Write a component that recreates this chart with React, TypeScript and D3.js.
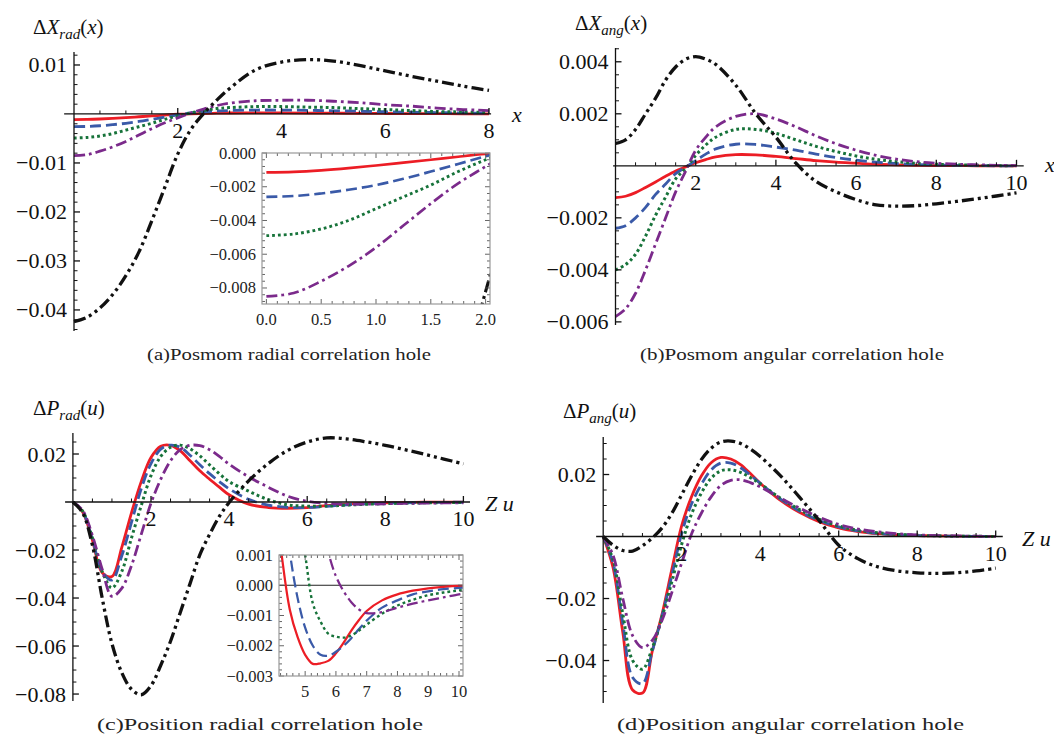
import React from 'react';
import * as d3 from 'd3';

// (a) posmom radial correlation hole
const A_X = [0, 0.25, 0.5, 0.75, 1, 1.25, 1.5, 1.75, 2, 2.25, 2.5, 2.75, 3, 3.5, 4, 4.5, 5, 5.5, 6, 6.5, 7, 7.5, 8];
const A_RED = [-0.00115, -0.00112, -0.00103, -0.0009, -0.00074, -0.00057, -0.0004, -0.00022, -0.00006, 0.00004, 0.0001, 0.00016, 0.0002, 0.00022, 0.00021, 0.00019, 0.00016, 0.00013, 0.0001, 0.00008, 0.00006, 0.00004, 0.00003];
const A_BLUE = [-0.0026, -0.00255, -0.0024, -0.00218, -0.0019, -0.00153, -0.0011, -0.00065, -0.0002, 0.0002, 0.00045, 0.0006, 0.0007, 0.0008, 0.0008, 0.00074, 0.00065, 0.00055, 0.00045, 0.00036, 0.00028, 0.00021, 0.00016];
const A_GREEN = [-0.0049, -0.0048, -0.0045, -0.004, -0.0033, -0.0026, -0.0019, -0.0011, -0.0004, 0.0002, 0.0007, 0.0011, 0.0013, 0.0015, 0.0015, 0.0014, 0.0013, 0.0011, 0.0009, 0.0007, 0.0005, 0.0004, 0.0003];
const A_PURPLE = [-0.0085, -0.0083, -0.0076, -0.0067, -0.0056, -0.0043, -0.003, -0.0018, -0.0008, 0.0002, 0.001, 0.0017, 0.0022, 0.0027, 0.0028, 0.0028, 0.0026, 0.0023, 0.0019, 0.0016, 0.0012, 0.0009, 0.0007];
const A_BLACK = [-0.0424, -0.0415, -0.0396, -0.0368, -0.033, -0.0282, -0.0218, -0.015, -0.0082, -0.0032, 0.0001, 0.0028, 0.0052, 0.009, 0.0106, 0.0111, 0.0108, 0.0099, 0.0088, 0.0077, 0.0067, 0.0057, 0.0048];

// (b) posmom angular correlation hole
const B_X = [0, 0.25, 0.5, 0.75, 1, 1.25, 1.5, 1.75, 2, 2.25, 2.5, 3, 3.5, 4, 4.5, 5, 5.5, 6, 6.5, 7, 7.5, 8, 8.5, 9, 9.5, 10];
const B_RED = [-0.00122, -0.00117, -0.00103, -0.00083, -0.00062, -0.0004, -0.0002, -0.00004, 0.00012, 0.00024, 0.00034, 0.00043, 0.00042, 0.00036, 0.00028, 0.0002, 0.00014, 0.0001, 0.00006, 0.00004, 0.00002, 0.00001, 0.00001, 0, 0, 0];
const B_BLUE = [-0.0024, -0.0023, -0.002, -0.0016, -0.0011, -0.0007, -0.0003, -0.00005, 0.0002, 0.00045, 0.00065, 0.00083, 0.00082, 0.00072, 0.0006, 0.00045, 0.00032, 0.00022, 0.00014, 0.00009, 0.00005, 0.00003, 0.00002, 0.00001, 0, 0];
const B_GREEN = [-0.004, -0.0038, -0.0034, -0.0027, -0.0019, -0.0012, -0.0005, -0.0001, 0.0004, 0.0008, 0.0011, 0.0014, 0.0014, 0.00125, 0.001, 0.00075, 0.00055, 0.00038, 0.00025, 0.00016, 0.0001, 0.00006, 0.00004, 0.00002, 0.00001, 0];
const B_PURPLE = [-0.0058, -0.0055, -0.0049, -0.004, -0.003, -0.002, -0.001, -0.0002, 0.0006, 0.0011, 0.0015, 0.0019, 0.002, 0.0018, 0.0015, 0.00115, 0.00085, 0.0006, 0.0004, 0.00026, 0.00016, 0.0001, 0.00006, 0.00004, 0.00002, 0.00001];
const B_BLACK = [0.00086, 0.001, 0.0014, 0.002, 0.0026, 0.0033, 0.0038, 0.0041, 0.0042, 0.0041, 0.0039, 0.0031, 0.002, 0.0011, 0.0001, -0.0006, -0.001, -0.0013, -0.0015, -0.00155, -0.00153, -0.00146, -0.00137, -0.00127, -0.00116, -0.00104];

// (c) position radial correlation hole
const C_X = [0, 0.25, 0.5, 0.75, 1, 1.25, 1.5, 1.75, 2, 2.25, 2.5, 2.75, 3, 3.25, 3.5, 3.75, 4, 4.5, 5, 5.5, 6, 6.5, 7, 7.5, 8, 8.5, 9, 9.5, 10];
const C_RED = [0, -0.0042, -0.016, -0.0295, -0.031, -0.019, -0.0045, 0.0085, 0.0185, 0.0232, 0.0236, 0.0213, 0.0172, 0.013, 0.0095, 0.0062, 0.003, -0.0009, -0.0023, -0.0026, -0.0023, -0.0015, -0.00085, -0.0005, -0.0003, -0.00018, -0.0001, -0.00005, -0.00002];
const C_BLUE = [0, -0.004, -0.0155, -0.029, -0.0325, -0.0225, -0.0085, 0.0055, 0.016, 0.022, 0.0237, 0.0228, 0.0195, 0.0155, 0.0118, 0.0085, 0.0055, 0.0011, -0.0013, -0.0022, -0.0023, -0.0018, -0.0012, -0.00074, -0.0005, -0.0003, -0.0002, -0.00013, -0.00009];
const C_GREEN = [0, -0.0038, -0.015, -0.029, -0.0358, -0.029, -0.015, -0.0015, 0.011, 0.019, 0.0228, 0.0237, 0.0222, 0.0192, 0.0155, 0.0118, 0.0085, 0.0045, 0.001, -0.0012, -0.0017, -0.00167, -0.0013, -0.00094, -0.00067, -0.00048, -0.00033, -0.00024, -0.00017];
const C_PURPLE = [0, -0.0035, -0.014, -0.028, -0.0393, -0.036, -0.0265, -0.0135, -0.0005, 0.0095, 0.0172, 0.0218, 0.0236, 0.0235, 0.0218, 0.019, 0.0158, 0.0105, 0.0062, 0.0024, 0.0003, -0.00056, -0.00092, -0.00089, -0.00074, -0.00061, -0.0005, -0.0004, -0.0003];
const C_BLACK = [0, -0.0045, -0.018, -0.04, -0.059, -0.071, -0.078, -0.0803, -0.0765, -0.068, -0.058, -0.046, -0.034, -0.022, -0.0135, -0.006, -0.0002, 0.0088, 0.016, 0.0215, 0.025, 0.0267, 0.0263, 0.0251, 0.0236, 0.0218, 0.0199, 0.0179, 0.0159];

// (c) inset, 4.15 <= Z u <= 10.13
const CI_X = [4.15, 4.25, 4.5, 4.75, 5, 5.25, 5.5, 5.75, 6, 6.25, 6.5, 6.75, 7, 7.5, 8, 8.5, 9, 9.5, 10, 10.13];
const CI_RED = [0.0018, 0.0009, -0.0008, -0.0017, -0.0023, -0.0026, -0.00258, -0.0025, -0.00225, -0.0019, -0.0015, -0.00115, -0.00085, -0.0005, -0.0003, -0.00018, -0.0001, -0.00005, -0.00002, -0.00002];
const CI_BLUE = [0.0045, 0.0033, 0.0011, -0.0004, -0.0014, -0.002, -0.0023, -0.00233, -0.0022, -0.002, -0.00175, -0.00145, -0.00117, -0.00074, -0.0005, -0.0003, -0.0002, -0.00013, -0.00009, -0.00008];
const CI_GREEN = [0.0065, 0.0058, 0.0043, 0.0025, 0.001, -0.0006, -0.0012, -0.0016, -0.0017, -0.00173, -0.00166, -0.0015, -0.0013, -0.00094, -0.00067, -0.00048, -0.00033, -0.00024, -0.00017, -0.00016];
const CI_PURPLE = [0.013, 0.0122, 0.0105, 0.0083, 0.0062, 0.0042, 0.0024, 0.0011, 0.0003, -0.0002, -0.00056, -0.0008, -0.00092, -0.00089, -0.00074, -0.00061, -0.0005, -0.0004, -0.0003, -0.00028];

// (d) position angular correlation hole
const D_X = C_X;
const D_RED = [0, -0.01, -0.031, -0.0495, -0.0505, -0.037, -0.025, -0.0105, 0.0035, 0.0128, 0.0195, 0.0238, 0.0255, 0.025, 0.0232, 0.0203, 0.0172, 0.0118, 0.0078, 0.0048, 0.0028, 0.0016, 0.0009, 0.0005, 0.0003, 0.0002, 0.0001, 0.00005, 0.00002];
const D_BLUE = [0, -0.0085, -0.028, -0.0455, -0.0475, -0.037, -0.0255, -0.0125, 0.001, 0.0105, 0.0168, 0.0215, 0.0237, 0.0237, 0.0222, 0.0198, 0.0172, 0.0122, 0.0082, 0.0052, 0.0031, 0.0018, 0.001, 0.0006, 0.0003, 0.0002, 0.0001, 0.00005, 0.00002];
const D_GREEN = [0, -0.0075, -0.025, -0.04, -0.0428, -0.036, -0.026, -0.0145, -0.0025, 0.0072, 0.014, 0.0188, 0.0212, 0.0215, 0.0207, 0.019, 0.017, 0.0125, 0.0087, 0.0056, 0.0034, 0.002, 0.0012, 0.0007, 0.0004, 0.0002, 0.0001, 0.00006, 0.00003];
const D_PURPLE = [0, -0.006, -0.02, -0.032, -0.0358, -0.0335, -0.027, -0.018, -0.0085, 0.0008, 0.0075, 0.0128, 0.0165, 0.0181, 0.0183, 0.0174, 0.016, 0.0125, 0.0092, 0.0062, 0.0039, 0.0024, 0.0015, 0.0009, 0.0005, 0.0003, 0.0002, 0.0001, 0.00005];
const D_BLACK = [0, -0.0028, -0.0045, -0.0047, -0.003, -0.0005, 0.0028, 0.0075, 0.0135, 0.0195, 0.0248, 0.0285, 0.0305, 0.0308, 0.03, 0.0282, 0.0258, 0.0198, 0.0127, 0.0052, -0.0028, -0.0072, -0.0098, -0.0111, -0.0117, -0.0119, -0.0117, -0.0111, -0.0102];

const SERIF = 'Liberation Serif, DejaVu Serif, serif';

// red solid, blue dashed, green dotted, purple dash-dot, black dash-dot-dot
const STYLES = [
  { color: '#ec1d25', dash: undefined, width: 2.8 },
  { color: '#3a5aa8', dash: '11,5', width: 2.8 },
  { color: '#17733a', dash: '2.8,3', width: 3 },
  { color: '#7b2a8b', dash: '11,4,2.8,4', width: 2.8 },
  { color: '#111111', dash: '12,4,3,4,3,4', width: 3.3 },
];

const minus = (s: string) => s.replace('-', '\u2212');

function stepTicks(lo: number, hi: number, step: number) {
  const k0 = Math.ceil(lo / step - 1e-6);
  const k1 = Math.floor(hi / step + 1e-6);
  return d3.range(k0, k1 + 1).map(k => +(k * step).toFixed(8));
}
function isMult(v: number, step: number) {
  const r = v / step;
  return Math.abs(r - Math.round(r)) < 1e-6;
}

function Curves({ xs, ys, sx, sy, scale = 1, clip }: any) {
  const line = d3.line<[number, number]>()
    .x(d => sx(d[0]))
    .y(d => sy(d[1]))
    .curve(d3.curveCatmullRom.alpha(0.5));
  return (
    <g fill="none" clipPath={clip}>
      {ys.map((vals: number[], i: number) => {
        if (!vals) return null;
        const st = STYLES[i];
        return (
          <path key={i} d={line(xs.map((x: number, j: number) => [x, vals[j]])) || ''}
            stroke={st.color} strokeWidth={st.width * scale}
            strokeDasharray={st.dash} />
        );
      })}
    </g>
  );
}

function Title({ x, y, main, sub, arg }: any) {
  return (
    <text x={x} y={y} style={{ fontFamily: SERIF }} fontSize={21} fill="#111">
      Δ<tspan fontStyle="italic">{main}</tspan>
      <tspan fontStyle="italic" fontSize={15} dy={5}>{sub}</tspan>
      <tspan dy={-5}>(</tspan><tspan fontStyle="italic">{arg}</tspan>)
    </text>
  );
}

function MainPanel({ p }: any) {
  const sx = d3.scaleLinear().domain(p.xDomain).range(p.xRange);
  const sy = d3.scaleLinear().domain(p.yDomain).range(p.yRange);
  const x0 = sx(0);
  const y0 = sy(0);
  const xMaj = stepTicks(p.xDomain[0], p.xDomain[1], p.xMajor).filter(v => v !== 0);
  const xMin = stepTicks(p.xDomain[0], p.xDomain[1], p.xMinor).filter(v => v !== 0 && !isMult(v, p.xMajor));
  const yMaj = stepTicks(p.yDomain[0], p.yDomain[1], p.yMajor).filter(v => v !== 0);
  const yMin = stepTicks(p.yDomain[0], p.yDomain[1], p.yMinor).filter(v => v !== 0 && !isMult(v, p.yMajor));
  const yFmt = d3.format(p.yFmt);
  return (
    <g>
      <Curves xs={p.xs} ys={p.ys} sx={sx} sy={sy} />
      <g stroke="#111" strokeWidth={1.3}>
        <line x1={sx(p.xLine[0])} x2={sx(p.xLine[1])} y1={y0} y2={y0} />
        <line x1={x0} x2={x0} y1={p.yRange[0]} y2={p.yRange[1]} />
        {xMaj.map(v => <line key={'xM' + v} x1={sx(v)} x2={sx(v)} y1={y0} y2={y0 - 6} />)}
        {xMin.map(v => <line key={'xm' + v} x1={sx(v)} x2={sx(v)} y1={y0} y2={y0 - 3.5} strokeWidth={1} />)}
        {yMaj.map(v => <line key={'yM' + v} x1={x0} x2={x0 + 6} y1={sy(v)} y2={sy(v)} />)}
        {yMin.map(v => <line key={'ym' + v} x1={x0} x2={x0 + 3.5} y1={sy(v)} y2={sy(v)} strokeWidth={1} />)}
      </g>
      <g style={{ fontFamily: SERIF }} fontSize={22} fill="#111">
        {xMaj.map(v => (
          <text key={'xl' + v} x={sx(v)} y={y0 + 24} textAnchor="middle">{d3.format('d')(v)}</text>
        ))}
        {yMaj.map(v => (
          <text key={'yl' + v} x={x0 - 7} y={sy(v) + 7.5} textAnchor="end">{minus(yFmt(v))}</text>
        ))}
        <text x={p.xLabel[0]} y={p.xLabel[1]} fontStyle="italic">{p.xLabelText}</text>
      </g>
    </g>
  );
}

function Inset({ p }: any) {
  const [bx0, bx1] = p.boxX;
  const [by0, by1] = p.boxY;
  const sx = d3.scaleLinear().domain(p.xDomain).range([bx0, bx1]);
  const sy = d3.scaleLinear().domain(p.yDomain).range([by1, by0]);
  const xMaj = stepTicks(p.xDomain[0], p.xDomain[1], p.xMajor);
  const xMin = stepTicks(p.xDomain[0], p.xDomain[1], p.xMinor).filter(v => !isMult(v, p.xMajor));
  const yMaj = stepTicks(p.yDomain[0], p.yDomain[1], p.yMajor);
  const yMin = stepTicks(p.yDomain[0], p.yDomain[1], p.yMinor).filter(v => !isMult(v, p.yMajor));
  const tick = (v: number, maj: boolean, axis: 'x' | 'y') => {
    const L = maj ? 5 : 3;
    if (axis === 'x') {
      const x = sx(v);
      return (
        <g key={axis + v}>
          <line x1={x} x2={x} y1={by1} y2={by1 - L} />
          <line x1={x} x2={x} y1={by0} y2={by0 + L} />
        </g>
      );
    }
    const y = sy(v);
    return (
      <g key={axis + v}>
        <line x1={bx0} x2={bx0 + L} y1={y} y2={y} />
        <line x1={bx1} x2={bx1 - L} y1={y} y2={y} />
      </g>
    );
  };
  return (
    <g>
      <defs>
        <clipPath id={p.id}>
          <rect x={bx0} y={by0} width={bx1 - bx0} height={by1 - by0} />
        </clipPath>
      </defs>
      <rect x={bx0} y={by0} width={bx1 - bx0} height={by1 - by0} fill="#fff" />
      {p.zeroLine && (
        <line x1={bx0} x2={bx1} y1={sy(0)} y2={sy(0)} stroke="#222" strokeWidth={1} />
      )}
      <Curves xs={p.xs} ys={p.ys} sx={sx} sy={sy} scale={p.lineScale} clip={`url(#${p.id})`} />
      <g stroke="#555" strokeWidth={0.9}>
        {xMaj.map(v => tick(v, true, 'x'))}
        {xMin.map(v => tick(v, false, 'x'))}
        {yMaj.map(v => tick(v, true, 'y'))}
        {yMin.map(v => tick(v, false, 'y'))}
      </g>
      <rect x={bx0} y={by0} width={bx1 - bx0} height={by1 - by0} fill="none" stroke="#999" strokeWidth={1.2} />
      <g style={{ fontFamily: SERIF }} fontSize={16.5} fill="#222">
        {xMaj.map(v => (
          <text key={'l' + v} x={sx(v)} y={by1 + 21} textAnchor="middle">{d3.format(p.xFmt)(v)}</text>
        ))}
        {yMaj.map(v => (
          <text key={'m' + v} x={bx0 - 6} y={sy(v) + 5.5} textAnchor="end">{minus(d3.format(p.yFmt)(v))}</text>
        ))}
      </g>
    </g>
  );
}

const PANEL_A = {
  xDomain: [0, 8], xRange: [74, 489], yDomain: [-0.0443, 0.01265], yRange: [331, 52],
  xLine: [-0.19, 8.04], xMajor: 2, xMinor: 0.5, yMajor: 0.01, yMinor: 0.002, yFmt: '.2f',
  xs: A_X, ys: [A_RED, A_BLUE, A_GREEN, A_PURPLE, A_BLACK], xLabel: [512, 122], xLabelText: 'x',
};
const PANEL_B = {
  xDomain: [0, 10], xRange: [615.5, 1016.5], yDomain: [-0.00612, 0.00453], yRange: [325, 48],
  xLine: [-0.06, 10.18], xMajor: 2, xMinor: 0.5, yMajor: 0.002, yMinor: 0.0005, yFmt: '.3f',
  xs: B_X, ys: [B_RED, B_BLUE, B_GREEN, B_PURPLE, B_BLACK], xLabel: [1045, 172], xLabelText: 'x',
};
const PANEL_C = {
  xDomain: [0, 10], xRange: [72.9, 463.4], yDomain: [-0.0829, 0.02875], yRange: [701, 433],
  xLine: [-0.2, 10.17], xMajor: 2, xMinor: 0.5, yMajor: 0.02, yMinor: 0.005, yFmt: '.2f',
  xs: C_X, ys: [C_RED, C_BLUE, C_GREEN, C_PURPLE, C_BLACK], xLabel: [485, 511], xLabelText: 'Z u',
};
const PANEL_D = {
  xDomain: [0, 10], xRange: [603.2, 995.7], yDomain: [-0.0537, 0.0321], yRange: [703, 437],
  xLine: [-0.18, 10.18], xMajor: 2, xMinor: 0.5, yMajor: 0.02, yMinor: 0.005, yFmt: '.2f',
  xs: D_X, ys: [D_RED, D_BLUE, D_GREEN, D_PURPLE, D_BLACK], xLabel: [1022, 546], xLabelText: 'Z u',
};
const INSET_A = {
  id: 'clipInsetA', boxX: [262, 490], boxY: [153, 304], xDomain: [-0.04, 2.04], yDomain: [-0.00895, 0],
  xMajor: 0.5, xMinor: 0.1, yMajor: 0.002, yMinor: 0.0004, xFmt: '.1f', yFmt: '.3f',
  xs: A_X, ys: [A_RED, A_BLUE, A_GREEN, A_PURPLE, A_BLACK], lineScale: 0.95, zeroLine: false,
};
const INSET_C = {
  id: 'clipInsetC', boxX: [279, 463], boxY: [555, 676], xDomain: [4.15, 10.13], yDomain: [-0.003, 0.001],
  xMajor: 1, xMinor: 0.2, yMajor: 0.001, yMinor: 0.0002, xFmt: 'd', yFmt: '.3f',
  xs: CI_X, ys: [CI_RED, CI_BLUE, CI_GREEN, CI_PURPLE], lineScale: 0.8, zeroLine: true,
};

const CAPTIONS = [
  { text: '(a)Posmom radial correlation hole', x: 147, y: 360, len: 284 },
  { text: '(b)Posmom angular correlation hole', x: 640, y: 360, len: 304 },
  { text: '(c)Position radial correlation hole', x: 97, y: 730, len: 326 },
  { text: '(d)Position angular correlation hole', x: 617, y: 730, len: 347 },
];

export default function App() {
  return (
    <svg width={1054} height={737} viewBox="0 0 1054 737"
      style={{ position: 'absolute', left: 0, top: 0, background: '#fff' }}>
      <rect width={1054} height={737} fill="#fff" />
      <MainPanel p={PANEL_A} />
      <Inset p={INSET_A} />
      <MainPanel p={PANEL_B} />
      <MainPanel p={PANEL_C} />
      <Inset p={INSET_C} />
      <MainPanel p={PANEL_D} />
      <Title x={33} y={34} main="X" sub="rad" arg="x" />
      <Title x={575} y={30} main="X" sub="ang" arg="x" />
      <Title x={33} y={415} main="P" sub="rad" arg="u" />
      <Title x={563} y={418} main="P" sub="ang" arg="u" />
      {CAPTIONS.map(c => (
        <text key={c.text} x={c.x} y={c.y} style={{ fontFamily: SERIF }} fontSize={17.5} fill="#222"
          textLength={c.len} lengthAdjust="spacingAndGlyphs">{c.text}</text>
      ))}
    </svg>
  );
}
